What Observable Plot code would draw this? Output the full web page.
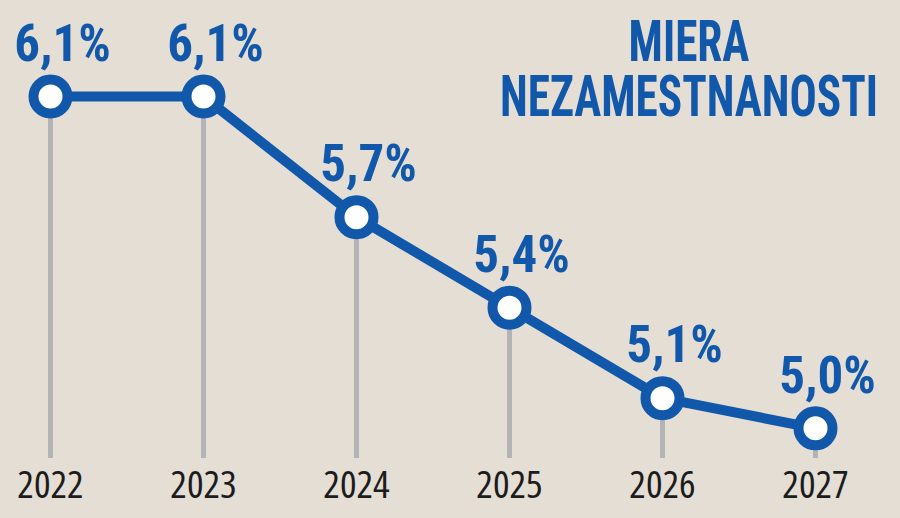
<!DOCTYPE html>
<html>
<head>
<meta charset="utf-8">
<script src="https://cdn.jsdelivr.net/npm/d3@7"></script>
<script src="https://cdn.jsdelivr.net/npm/@observablehq/plot@0.6"></script>
<style>
  html, body { margin: 0; padding: 0; background: #e5ded5; }
  #wrap { position: relative; width: 900px; height: 518px; overflow: hidden; }
  .title {
    position: absolute; left: 689px;
    transform: translateX(-50%) scaleX(0.78);
    transform-origin: center top;
    font-family: "Roboto Condensed", "Roboto", sans-serif;
    font-stretch: condensed;
    font-weight: 700; font-size: 58px; line-height: 50px; height: 50px;
    color: #1258aa; text-align: center; white-space: nowrap;
  }
</style>
</head>
<body>
<div id="wrap">
  <div id="chart"></div>
  <div class="title" style="top:16px">MIERA</div>
  <div class="title" style="top:71px">NEZAMESTNANOSTI</div>
</div>
<script>
const years = ["2022", "2023", "2024", "2025", "2026", "2027"];
const rates = [6.1, 6.1, 5.7, 5.4, 5.1, 5.0];
const yMin = 4.9;
const yMax = 6.1;

const blue = "#1258aa";
const data = years.map((year, i) => ({year, value: rates[i]}));
const label = d => d.value.toFixed(1).replace(".", ",") + "%";
const labelFont = '"Roboto Condensed", "Roboto", sans-serif';
const yearFont = '"Open Sans", sans-serif';

const chart = Plot.plot({
  width: 900,
  height: 518,
  marginLeft: 50,
  marginRight: 85,
  marginTop: 96,
  marginBottom: 60,
  style: {background: "#e5ded5", fontFamily: yearFont, fontStretch: "75%", color: "#1c1c1c", overflow: "visible"},
  x: {type: "point", domain: years, padding: 0, label: null},
  y: {domain: [yMin, yMax], axis: null},
  marks: [
    Plot.ruleX(data, {x: "year", y1: "value", y2: () => yMin, stroke: "#b4b4b8", strokeWidth: 5}),
    Plot.line(data, {x: "year", y: "value", stroke: blue, strokeWidth: 10}),
    Plot.dot(data, {x: "year", y: "value", r: 17, fill: "white", stroke: blue, strokeWidth: 10}),
    Plot.text(data, {x: "year", y: "value", text: label, dx: 12, dy: -52, fontSize: 51, fontWeight: 700, fill: blue, fontFamily: labelFont}),
    Plot.axisX({tickSize: 0, tickPadding: 12, fontSize: 39, fontFamily: yearFont, label: null})
  ]
});
document.getElementById("chart").appendChild(chart);
</script>
</body>
</html>
